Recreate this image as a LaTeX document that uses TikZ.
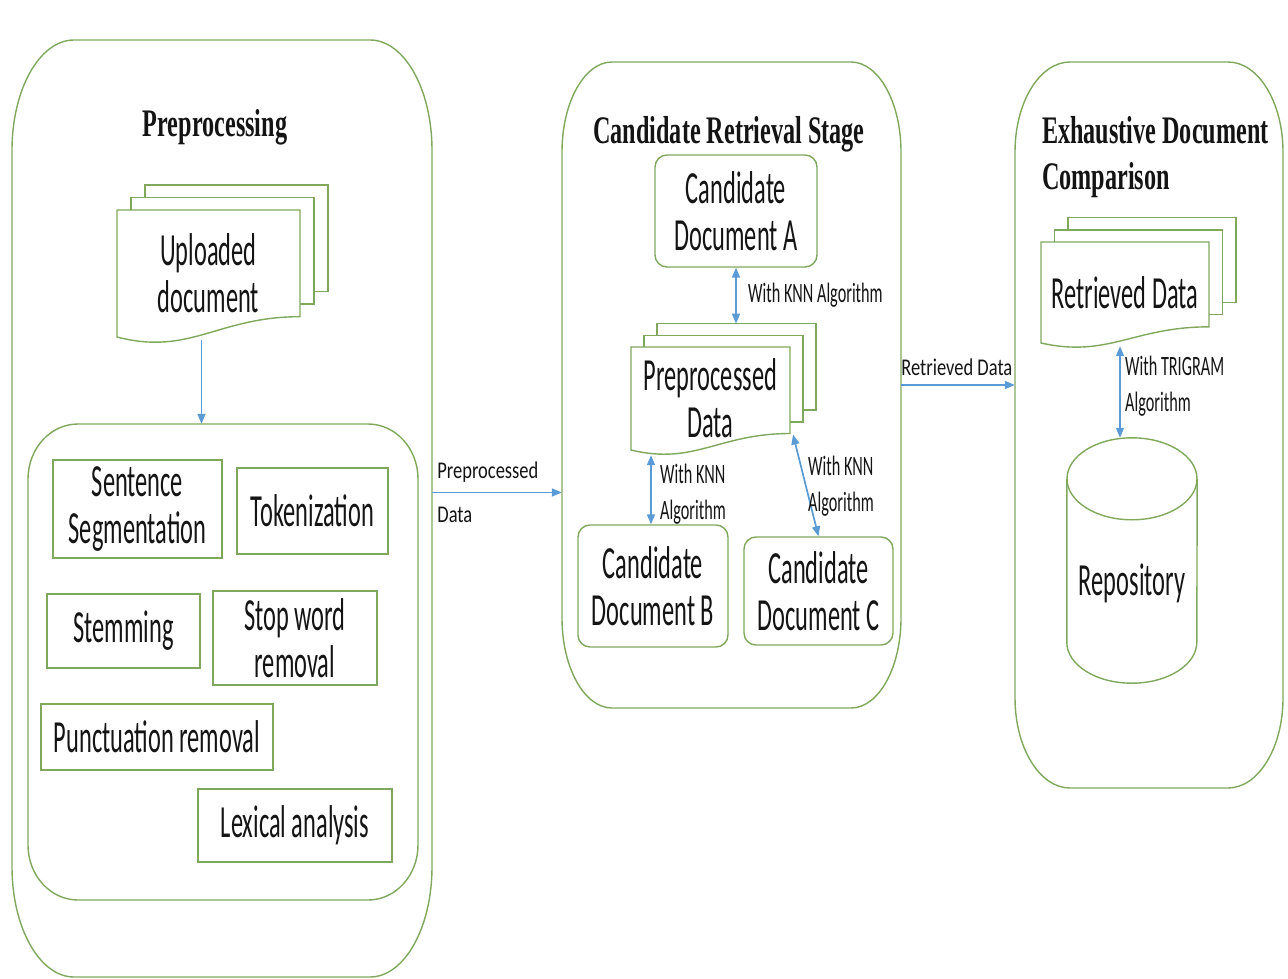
\documentclass[tikz,border=0pt]{standalone}
\usepackage{fontspec}
\usetikzlibrary{arrows.meta,calc}
\setmainfont{Carlito}
\newfontfamily\bodyfnt[FakeStretch=0.53]{Carlito}
\newfontfamily\knnfnt[FakeStretch=0.58]{Carlito}
\newfontfamily\edgefnt[FakeStretch=0.77]{Carlito}
\newfontfamily\headfnt[FakeStretch=0.62]{Liberation Serif}

\definecolor{lineg}{RGB}{128,168,92}
\definecolor{flowblue}{RGB}{91,155,213}
\definecolor{ink}{RGB}{20,20,20}

\tikzset{
  grn/.style={draw=lineg, line width=1.4pt},
  stepbox/.style={grn, rectangle, inner sep=0pt, align=center},
  candbox/.style={grn, rounded corners=12pt, inner sep=0pt, align=center},
  bodytxt/.style={font={\bodyfnt\fontsize{46}{47}\selectfont}, text=ink, align=center},
  knntxt/.style={font={\knnfnt\fontsize{28}{36}\selectfont}, text=ink, align=left, inner sep=0pt},
  edgetxt/.style={font={\edgefnt\fontsize{24}{44}\selectfont}, text=ink, align=left, inner sep=0pt},
  headtxt/.style={font={\headfnt\bfseries\fontsize{39}{46}\selectfont}, text=ink, inner sep=0pt},
  flow/.style={draw=flowblue, line width=1.7pt, -{Triangle[length=10pt,width=8pt]}},
  twoway/.style={draw=flowblue, line width=1.7pt, {Triangle[length=10pt,width=8pt]}-{Triangle[length=10pt,width=8pt]}},
}

% stage frame: name, x1, y1, x2, y2, corner x radius, corner y radius
\newcommand\stage[7]{%
  \node[inner sep=0pt, minimum width={#4-#2}, minimum height={#5-#3}] (#1) at ({(#2+#4)/2},{(#3+#5)/2}) {};
  \draw[grn] (#2+#6,#3) -- (#4-#6,#3)
    arc[start angle=-90, end angle=0, x radius=#6, y radius=#7] -- (#4,#5-#7)
    arc[start angle=0, end angle=90, x radius=#6, y radius=#7] -- (#2+#6,#5)
    arc[start angle=90, end angle=180, x radius=#6, y radius=#7] -- (#2,#3+#7)
    arc[start angle=180, end angle=270, x radius=#6, y radius=#7] -- cycle;
}

% stack of document pages: name, centre x, centre y, width, height, page offset, text
\newcommand\multidoc[7]{%
  \pgfmathsetmacro\mdL{#2-#4/2}%
  \pgfmathsetmacro\mdR{#2+#4/2}%
  \pgfmathsetmacro\mdT{#3-#5/2}%
  \pgfmathsetmacro\mdB{#3+#5/2}%
  \pgfmathsetmacro\mdRB{\mdT+0.84*#5}%
  \pgfmathsetmacro\mdW{#4}%
  \pgfmathsetmacro\mdH{#5}%
  \foreach \k in {2,1}{%
    \filldraw[grn, fill=white] (\mdL+\k*#6, \mdT-0.9*\k*#6) rectangle (\mdR+\k*#6, \mdRB-0.9*\k*#6);
  }%
  \filldraw[grn, fill=white] (\mdL,\mdT) -- (\mdR,\mdT) -- (\mdR,\mdRB)
    .. controls (\mdR-0.45*\mdW, \mdRB) and (\mdL+0.4*\mdW, \mdB+0.15*\mdH) .. (\mdL,\mdB) -- cycle;
  \node[bodytxt, minimum width=#4, minimum height=#5, inner sep=0pt] (#1) at (#2,#3) {#7};
  \coordinate (#1-top) at (#2+2*#6, \mdT-1.8*#6);
  \coordinate (#1-rb) at (\mdR, \mdRB);
}

\begin{document}
\begin{tikzpicture}[x=1pt, y=-1pt]
\useasboundingbox (0,0) rectangle (1288,979);

% ---------- Preprocessing ----------
\stage{pre}{12}{40}{432}{977}{62}{110}
\node[headtxt, anchor=base] (pretitle) at (215,137) {Preprocessing};
\multidoc{up}{208.5}{273.5}{183}{127}{14}{Uploaded\\document}
\stage{inner}{28}{424}{418}{900}{50}{55}
\draw[flow] ($(up.south)+(-7,3)$) coordinate (ua) -- (ua |- inner.north);

\node[stepbox, bodytxt, minimum width=169, minimum height=98] (sent) at (137.5,509) {Sentence\\Segmentation};
\node[stepbox, bodytxt, minimum width=151, minimum height=86] (tok) at (312.5,511) {Tokenization};
\node[stepbox, bodytxt, minimum width=153, minimum height=74] (stem) at (123.5,631) {Stemming};
\node[stepbox, bodytxt, minimum width=164, minimum height=94] (stop) at (295,638) {Stop word\\removal};
\node[stepbox, bodytxt, minimum width=232, minimum height=66] (punc) at (157,737) {Punctuation removal};
\node[stepbox, bodytxt, minimum width=194, minimum height=73] (lex) at (295,825.5) {Lexical analysis};

% ---------- Candidate retrieval ----------
\stage{cand}{562}{62}{901}{708}{50}{90}
\node[headtxt, anchor=base] (candtitle) at (729,143) {Candidate Retrieval Stage};
\node[candbox, bodytxt, minimum width=162, minimum height=112] (docA) at (736,211) {Candidate\\Document A};
\multidoc{ppd}{710.5}{398.5}{159}{103}{13}{Preprocessed\\Data}
\node[candbox, bodytxt, minimum width=150, minimum height=122] (docB) at (653,586) {Candidate\\Document B};
\node[candbox, bodytxt, minimum width=149, minimum height=108] (docC) at (818.5,591) {Candidate\\Document C};

\draw[twoway] (docA.south) -- (docA.south |- ppd-top);
\node[knntxt, anchor=base west] (knnA) at (748,302) {With KNN Algorithm};
\draw[twoway] ($(docB.north |- ppd.south)+(-2,5)$) coordinate (pb) -- (pb |- docB.north);
\node[knntxt, anchor=north west] (knnB) at (660,464) {With KNN\\Algorithm};
\draw[twoway] ($(ppd-rb)+(3,1)$) -- (docC.north);
\node[knntxt, anchor=north west] (knnC) at (808,456) {With KNN\\Algorithm};

% ---------- Exhaustive comparison ----------
\stage{exh}{1015}{62}{1283}{788}{55}{90}
\node[headtxt, anchor=north west, align=left] (exhtitle) at (1042,116) {Exhaustive Document\\Comparison};
\multidoc{rd}{1125}{292.5}{168}{101}{13.5}{Retrieved Data}
\node[bodytxt, inner sep=0pt, minimum width=130, minimum height=245, text height=69pt, text depth=0pt] (rep) at (1132,560.5) {Repository};
\draw[grn] ($(rep.north west)+(0,41)$) -- ($(rep.south west)+(0,-41)$)
  arc[start angle=180, end angle=0, x radius=65, y radius=41] -- ($(rep.north east)+(0,41)$);
\draw[grn] ($(rep.north)+(0,41)$) ellipse [x radius=65, y radius=41];
\draw[twoway] ($(rd.south)+(-5,3)$) coordinate (ra) -- (ra |- rep.north);
\node[knntxt, anchor=north west] (tri) at (1125,356) {With TRIGRAM\\Algorithm};

% ---------- Flows between stages ----------
\coordinate (ppout) at ($(pre.east)+(0,-16)$);
\draw[flow] (ppout) -- (cand.west |- ppout);
\node[edgetxt, anchor=west] (pplabel) at ($(ppout)+(5,0)$) {Preprocessed\\Data};
\draw[flow] (cand.east) -- (cand.east -| exh.west);
\node[edgetxt, anchor=base west] (rdlabel) at ($(cand.east)+(0,-10)$) {Retrieved Data};
\end{tikzpicture}
\end{document}
